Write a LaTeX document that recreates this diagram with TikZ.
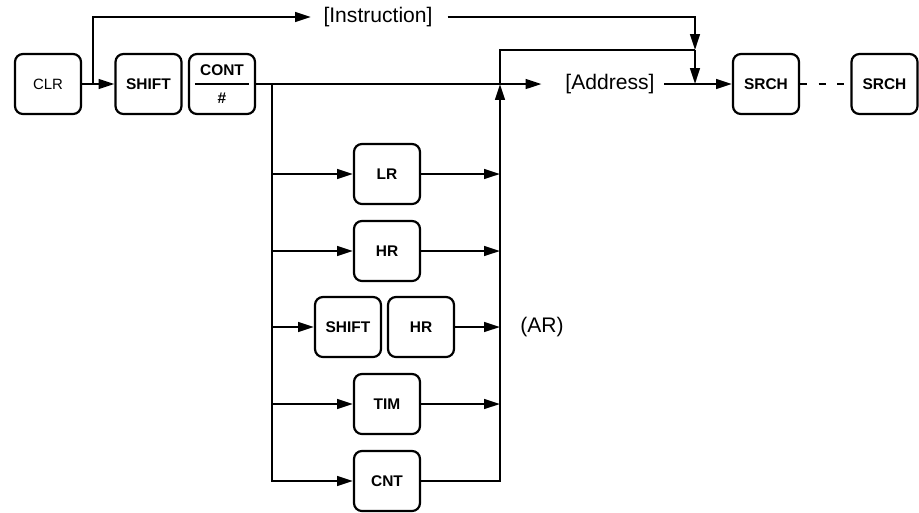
\documentclass[tikz,border=0pt]{standalone}
\usepackage{fontspec}
\setmainfont{Liberation Sans}
\usetikzlibrary{arrows.meta}

\begin{document}
\begin{tikzpicture}[x=0.02cm,y=-0.02cm,line width=1.25pt,
  >={Triangle[length=9pt,width=5.5pt]},
  key/.style={draw,rounded corners=4.5pt,minimum width=1.32cm,minimum height=1.2cm,
    inner sep=0pt,align=center,font=\fontsize{8.8}{16}\selectfont\bfseries},
  lbl/.style={inner sep=2pt,font=\fontsize{12}{14}\selectfont}]
  \useasboundingbox (0,0) rectangle (919,512);
  % keys of the top row
  \node[key,font=\fontsize{8.5}{10}\selectfont] (clr) at (48,84) {CLR};
  \node[key] (shiftA) at (148.5,84) {SHIFT};
  \node[key] (cont) at (222,84) {CONT\\\#};
  \node[key] (srchA) at (766,84) {SRCH};
  \node[key] (srchB) at (884.5,84) {SRCH};
  \draw ([xshift=4pt]cont.west) -- ([xshift=-4pt]cont.east);
  % texts
  \node[lbl] (instr) at (378,17) {[Instruction]};
  \node[lbl] (addr) at (610,84) {[Address]};
  \node[lbl] (ar) at (542,327) {(AR)};
  % keys of the branches
  \node[key] (lr) at (387,174) {LR};
  \node[key] (hr) at (387,251) {HR};
  \node[key] (shiftB) at (348,327) {SHIFT};
  \node[key] (hrB) at (421,327) {HR};
  \node[key] (tim) at (387,404) {TIM};
  \node[key] (cnt) at (387,481) {CNT};
  % junctions
  \coordinate (fork) at (93,84);
  \coordinate (split) at (272,84);
  \coordinate (join) at (500,84);
  \coordinate (drop) at (695,50);
  \coordinate (meet) at (695,84);

  \draw[->] (clr) -- (shiftA);
  \draw[->,shorten >=4.5pt] (fork) |- (instr.west);
  \draw[->,shorten <=6pt] (instr.east) -| (drop);
  \draw[->] (drop) -- (meet);
  \draw[->,shorten >=11pt] (cont) -- (addr.west);
  \draw[->,shorten <=3pt] (addr.east) -- (srchA);
  \draw[dash pattern=on 4pt off 6.5pt] (srchA) -- (srchB);
  \draw[->] (split) |- (cnt);
  \foreach \k in {lr,hr,shiftB,tim}
    \draw[->] (split |- \k) -- (\k);
  \foreach \k in {lr,hr,hrB,tim}
    \draw[->] (\k) -- (join |- \k);
  \draw[->] (cnt) -| (join);
  \draw (join) |- (drop);
\end{tikzpicture}
\end{document}
